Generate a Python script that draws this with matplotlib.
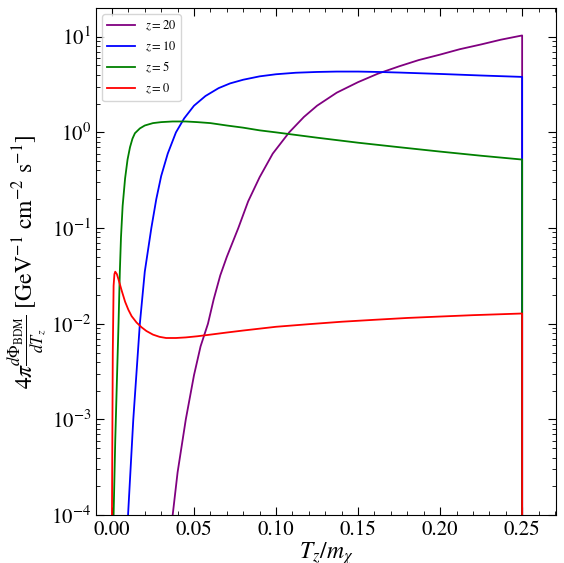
import numpy as np
import matplotlib
matplotlib.use("Agg")
import matplotlib.pyplot as plt

plt.rcParams['mathtext.fontset'] = 'stix'
plt.rcParams['font.family'] = ['STIXGeneral', 'DejaVu Serif']

x20 = [0.037, 0.040, 0.045, 0.050, 0.054, 0.0585, 0.062, 0.066, 0.070, 0.077, 0.083, 0.090, 0.098, 0.108, 0.117, 0.125, 0.137, 0.150, 0.162, 0.175, 0.187, 0.200, 0.212, 0.225, 0.237, 0.250, 0.250]
y20 = [1e-4, 2.8e-4, 1e-3, 2.9e-3, 5.8e-3, 1e-2, 1.8e-2, 3.2e-2, 5e-2, 1e-1, 0.19, 0.34, 0.6, 1.0, 1.45, 1.9, 2.6, 3.35, 4.1, 4.9, 5.7, 6.5, 7.4, 8.3, 9.3, 10.3, 1e-5]
x10 = [0.0098, 0.013, 0.017, 0.020, 0.024, 0.027, 0.030, 0.034, 0.039, 0.044, 0.050, 0.057, 0.065, 0.072, 0.080, 0.090, 0.100, 0.112, 0.125, 0.137, 0.150, 0.162, 0.175, 0.200, 0.225, 0.250, 0.250]
y10 = [1e-4, 1e-3, 1e-2, 3.5e-2, 1e-1, 0.2, 0.35, 0.6, 1.0, 1.4, 1.9, 2.4, 2.9, 3.25, 3.55, 3.85, 4.05, 4.2, 4.28, 4.32, 4.32, 4.28, 4.22, 4.08, 3.93, 3.8, 1e-5]
x5 = [0.001, 0.002, 0.003, 0.004, 0.0048, 0.0055, 0.0065, 0.008, 0.0095, 0.011, 0.0125, 0.014, 0.017, 0.020, 0.025, 0.030, 0.037, 0.045, 0.052, 0.060, 0.070, 0.080, 0.090, 0.100, 0.125, 0.150, 0.175, 0.200, 0.225, 0.250, 0.250]
y5 = [1e-4, 6e-4, 2.5e-3, 1e-2, 3.5e-2, 8e-2, 0.17, 0.33, 0.52, 0.7, 0.86, 0.98, 1.1, 1.18, 1.25, 1.28, 1.3, 1.3, 1.28, 1.25, 1.18, 1.12, 1.05, 1.0, 0.88, 0.78, 0.7, 0.63, 0.57, 0.52, 1e-5]
x0 = [0.0, 0.0005, 0.001, 0.0015, 0.002, 0.003, 0.004, 0.006, 0.008, 0.010, 0.012, 0.015, 0.018, 0.021, 0.025, 0.029, 0.033, 0.039, 0.045, 0.052, 0.060, 0.070, 0.080, 0.100, 0.120, 0.140, 0.160, 0.180, 0.200, 0.220, 0.250, 0.250]
y0 = [1e-4, 5e-3, 0.025, 0.033, 0.035, 0.033, 0.029, 0.022, 0.017, 0.014, 0.012, 0.0103, 0.0092, 0.0084, 0.0077, 0.0073, 0.0071, 0.0071, 0.0072, 0.0074, 0.0077, 0.0081, 0.0085, 0.0093, 0.0099, 0.0105, 0.011, 0.0115, 0.0119, 0.0123, 0.0128, 1e-5]

series = [(x20, y20, 'purple', '$z=20$'), (x10, y10, 'blue', '$z=10$'),
          (x5, y5, 'green', '$z=5$'), (x0, y0, 'red', '$z=0$')]

fig = plt.figure(figsize=(5.64, 5.63), dpi=100)
ax = fig.add_axes([0.170, 0.085, 0.816, 0.901])
for xs, ys, c, lab in series:
    ax.plot(xs, ys, color=c, lw=1.3, label=lab)
ax.set_yscale('log')
ax.set_xlim(-0.0098, 0.2707)
ax.set_ylim(1e-4, 20)
ax.set_xticks([0, 0.05, 0.1, 0.15, 0.2, 0.25])
ax.set_xticklabels(['0.00', '0.05', '0.10', '0.15', '0.20', '0.25'])
ax.minorticks_on()
ax.tick_params(which='both', direction='in', top=True, right=True, labelsize=15)
ax.tick_params(which='major', length=6)
ax.tick_params(which='minor', length=3)
ax.set_xlabel(r'$T_z/m_\chi$', fontsize=17, labelpad=0)
ax.set_ylabel(r'$4\pi\frac{d\Phi_{\rm BDM}}{dT_z}$ [GeV$^{-1}$ cm$^{-2}$ s$^{-1}$]', fontsize=17, labelpad=2)
ax.legend(loc='upper left', fontsize=9, frameon=True, handlelength=2.2)
fig.savefig('out.png', dpi=100)
